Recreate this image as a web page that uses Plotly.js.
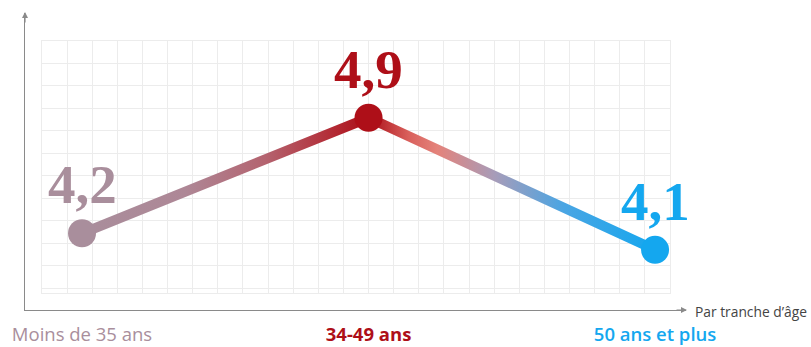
<!DOCTYPE html>
<html>
<head>
<meta charset="utf-8">
<script src="https://cdn.plot.ly/plotly-3.0.1.min.js"></script>
<style>
  html, body { margin: 0; padding: 0; background: #fff; }
  #chart { width: 811px; height: 347px; }
</style>
</head>
<body>
<div id="chart"></div>
<script>
// Age groups and their average score
const categories = ['Moins de 35 ans', '34-49 ans', '50 ans et plus'];
const values = [4.2, 4.9, 4.1];
const axisCaption = 'Par tranche d\u2019âge';

// Colour of each age group (point, value label, tick label)
const groupColors = ['#a98e9c', '#ae0f18', '#14a7ef'];
const tickWeights = [400, 700, 600];

const W = 811, H = 347;
const px = v => v / W;            // horizontal pixel -> paper fraction
const py = v => (H - v) / H;      // vertical pixel from top -> paper fraction

const fmt = v => v.toFixed(1).replace('.', ',');

const traces = [
  // empty trace so the background grid subplot exists
  { x: [], y: [], xaxis: 'x', yaxis: 'y', type: 'scatter', hoverinfo: 'skip', showlegend: false },
  {
    x: categories,
    y: values,
    xaxis: 'x2', yaxis: 'y2',
    type: 'scatter',
    mode: 'lines+markers',
    line: { color: '#b0121b', width: 10 },
    marker: { size: 28, color: groupColors, line: { width: 0 } },
    hoverinfo: 'skip',
    showlegend: false
  }
];

const valueLabels = values.map((v, i) => ({
  x: categories[i], y: v, xref: 'x2', yref: 'y2',
  text: fmt(v), showarrow: false,
  xanchor: 'center', yanchor: 'bottom', yshift: 16,
  font: { family: 'Liberation Serif, Times New Roman, serif', size: 55, color: groupColors[i], weight: 700 }
}));

const layout = {
  width: W, height: H,
  margin: { l: 0, r: 0, t: 0, b: 0 },
  paper_bgcolor: '#ffffff',
  plot_bgcolor: 'rgba(0,0,0,0)',
  font: { family: 'Open Sans, sans-serif' },
  showlegend: false,
  // light squared background grid
  xaxis: {
    domain: [px(42), px(670)], anchor: 'y',
    range: [0, 25], dtick: 1, tick0: 0,
    showgrid: true, gridcolor: '#ececec', gridwidth: 1,
    showline: true, linecolor: '#ececec', mirror: true,
    zeroline: false, showticklabels: false, ticks: '', fixedrange: true
  },
  yaxis: {
    domain: [py(293), py(40.5)], anchor: 'x',
    range: [-11.2, 0], dtick: 1, tick0: 0,
    showgrid: true, gridcolor: '#ececec', gridwidth: 1,
    showline: true, linecolor: '#ececec', mirror: true,
    zeroline: false, showticklabels: false, ticks: '', fixedrange: true
  },
  // data axes
  xaxis2: {
    domain: [px(25), px(686)], anchor: 'y2',
    type: 'category',
    range: [-0.199, 2.108],
    showgrid: false, zeroline: false,
    showline: true, linecolor: '#8a8a8a', linewidth: 1.2,
    ticks: '',
    tickvals: categories,
    ticktext: categories.map((c, i) =>
      `<span style="color:${groupColors[i]};font-weight:${tickWeights[i]}">${c}</span>`),
    tickfont: { family: 'Open Sans, sans-serif', size: 18.5 },
    ticklabelstandoff: 8,
    fixedrange: true
  },
  yaxis2: {
    domain: [py(310), py(13)], anchor: 'x2',
    range: [3.735, 5.535],
    showgrid: false, zeroline: false,
    showline: true, linecolor: '#8a8a8a', linewidth: 1.2,
    showticklabels: false, ticks: '', fixedrange: true
  },
  annotations: [
    ...valueLabels,
    // arrowheads on both axes
    { x: px(687), y: py(310), xref: 'paper', yref: 'paper', text: '', showarrow: true,
      ax: -12, ay: 0, arrowhead: 2, arrowsize: 1, arrowwidth: 1.2, arrowcolor: '#8a8a8a' },
    { x: px(25), y: py(12), xref: 'paper', yref: 'paper', text: '', showarrow: true,
      ax: 0, ay: 12, arrowhead: 2, arrowsize: 1, arrowwidth: 1.2, arrowcolor: '#8a8a8a' },
    { x: px(693), y: py(311), xref: 'paper', yref: 'paper', text: axisCaption, showarrow: false,
      xanchor: 'left', yanchor: 'middle',
      font: { family: 'Open Sans, sans-serif', size: 13.8, color: '#444' } }
  ]
};

Plotly.newPlot('chart', traces, layout, { staticPlot: true, displayModeBar: false }).then(gd => {
  // colour the connecting line with a gradient running from one age group to the next
  const svg = gd.querySelector('.main-svg');
  const defs = svg.querySelector('defs');
  const ns = 'http://www.w3.org/2000/svg';
  const grad = document.createElementNS(ns, 'linearGradient');
  grad.setAttribute('id', 'ageLineGradient');
  grad.setAttribute('x1', '0'); grad.setAttribute('x2', '1');
  grad.setAttribute('y1', '0'); grad.setAttribute('y2', '0');
  [
    [0.00, '#a98e9c'],
    [0.18, '#ae8796'],
    [0.32, '#b4636f'],
    [0.44, '#b32a34'],
    [0.50, '#ab0f18'],
    [0.57, '#d9605c'],
    [0.62, '#e4837b'],
    [0.72, '#a79cb9'],
    [0.84, '#4aa5e3'],
    [1.00, '#14a7ef']
  ].forEach(([o, c]) => {
    const s = document.createElementNS(ns, 'stop');
    s.setAttribute('offset', o);
    s.setAttribute('stop-color', c);
    grad.appendChild(s);
  });
  defs.appendChild(grad);
  gd.querySelectorAll('.subplot.x2y2 .scatterlayer path.js-line').forEach(p => {
    p.style.stroke = 'url(#ageLineGradient)';
  });
});
</script>
</body>
</html>
